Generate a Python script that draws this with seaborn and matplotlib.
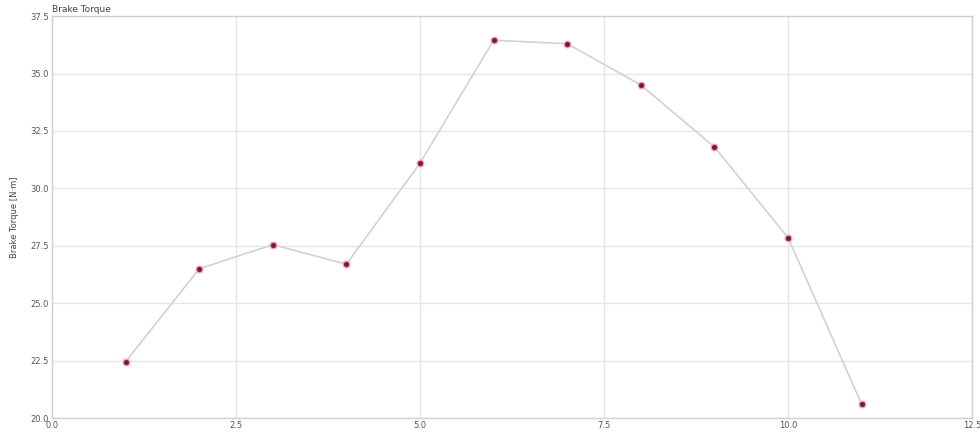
import numpy as np
import pandas as pd
import matplotlib
matplotlib.use("Agg")
import matplotlib.pyplot as plt
import seaborn as sns

# data
step = [1, 2, 3, 4, 5, 6, 7, 8, 9, 10, 11]
torque = [22.45, 26.5, 27.55, 26.7, 31.1, 36.45, 36.3, 34.5, 31.8, 27.85, 20.6]
x_ticks = [0.0, 2.5, 5.0, 7.5, 10.0, 12.5]
y_ticks = [20.0, 22.5, 25.0, 27.5, 30.0, 32.5, 35.0, 37.5]

df = pd.DataFrame({"step": step, "torque": torque})

sns.set_theme(style="whitegrid")
plt.rcParams['font.family'] = ['DejaVu Sans']

fig = plt.figure(figsize=(9.8, 4.36), dpi=100)
ax = fig.add_axes([0.053, 0.041, 0.939, 0.922])

sns.lineplot(data=df, x="step", y="torque", ax=ax, color="#d2d2d2",
             linewidth=1.2, zorder=2)
sns.scatterplot(data=df, x="step", y="torque", ax=ax, color="#7a1a2c",
                edgecolor="#f3a0b4", linewidth=1.0, s=22, zorder=3)

ax.set_xlim(0, 12.5)
ax.set_ylim(20, 37.5)
ax.set_xticks(x_ticks)
ax.set_yticks(y_ticks)
ax.set_xticklabels([f"{v:.1f}" for v in x_ticks])
ax.set_yticklabels([f"{v:.1f}" for v in y_ticks])
ax.tick_params(axis="both", labelsize=6, colors="#555555", pad=2, length=0)

ax.grid(True, color="#e6e6e6", linewidth=1)
for s in ax.spines.values():
    s.set_color("#d0d0d0")
    s.set_linewidth(1)

ax.set_xlabel("")
ax.set_ylabel("Brake Torque [N·m]", fontsize=6, color="#444444", labelpad=8)
ax.text(0.0, 1.005, "Brake Torque", transform=ax.transAxes, fontsize=6.5,
        color="#444444", ha="left", va="bottom")

fig.savefig("out.png", dpi=100)
